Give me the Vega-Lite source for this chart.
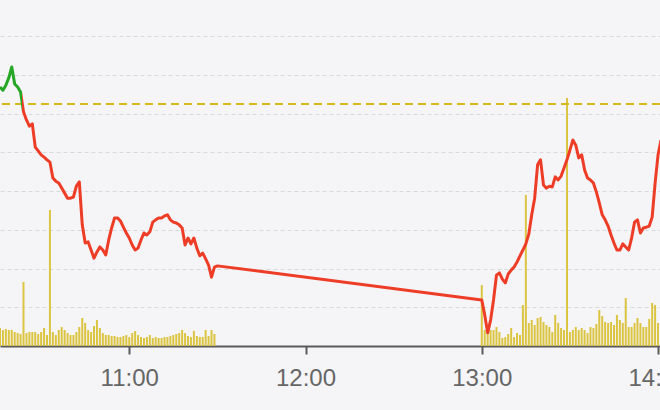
{
  "$schema": "https://vega.github.io/schema/vega-lite/v6.json",
  "width": 660,
  "height": 346,
  "padding": {"left": 0, "top": 0, "right": 0, "bottom": 64},
  "autosize": {"type": "none"},
  "background": "#f5f5f7",
  "config": {"view": {"stroke": null}, "font": "Liberation Sans"},
  "data": {
    "values": [
      {"t": "2024-01-02T10:16:00", "p": 20.669, "v": 1800},
      {"t": "2024-01-02T10:17:00", "p": 20.661, "v": 1600},
      {"t": "2024-01-02T10:18:00", "p": 20.674, "v": 1700},
      {"t": "2024-01-02T10:19:00", "p": 20.693, "v": 1600},
      {"t": "2024-01-02T10:20:00", "p": 20.721, "v": 1600},
      {"t": "2024-01-02T10:21:00", "p": 20.677, "v": 1400},
      {"t": "2024-01-02T10:22:00", "p": 20.669, "v": 1300},
      {"t": "2024-01-02T10:23:00", "p": 20.656, "v": 1200},
      {"t": "2024-01-02T10:24:00", "p": 20.605, "v": 6400},
      {"t": "2024-01-02T10:25:00", "p": 20.584, "v": 1300},
      {"t": "2024-01-02T10:26:00", "p": 20.568, "v": 1400},
      {"t": "2024-01-02T10:27:00", "p": 20.574, "v": 1400},
      {"t": "2024-01-02T10:28:00", "p": 20.514, "v": 1400},
      {"t": "2024-01-02T10:29:00", "p": 20.504, "v": 1200},
      {"t": "2024-01-02T10:30:00", "p": 20.494, "v": 1400},
      {"t": "2024-01-02T10:31:00", "p": 20.488, "v": 1800},
      {"t": "2024-01-02T10:32:00", "p": 20.481, "v": 1100},
      {"t": "2024-01-02T10:33:00", "p": 20.475, "v": 13600},
      {"t": "2024-01-02T10:34:00", "p": 20.434, "v": 1400},
      {"t": "2024-01-02T10:35:00", "p": 20.426, "v": 1100},
      {"t": "2024-01-02T10:36:00", "p": 20.421, "v": 1600},
      {"t": "2024-01-02T10:37:00", "p": 20.408, "v": 1900},
      {"t": "2024-01-02T10:38:00", "p": 20.395, "v": 1600},
      {"t": "2024-01-02T10:39:00", "p": 20.382, "v": 1300},
      {"t": "2024-01-02T10:40:00", "p": 20.382, "v": 1100},
      {"t": "2024-01-02T10:41:00", "p": 20.385, "v": 1100},
      {"t": "2024-01-02T10:42:00", "p": 20.413, "v": 1400},
      {"t": "2024-01-02T10:43:00", "p": 20.424, "v": 1900},
      {"t": "2024-01-02T10:44:00", "p": 20.313, "v": 2800},
      {"t": "2024-01-02T10:45:00", "p": 20.266, "v": 2300},
      {"t": "2024-01-02T10:46:00", "p": 20.269, "v": 1600},
      {"t": "2024-01-02T10:47:00", "p": 20.248, "v": 1400},
      {"t": "2024-01-02T10:48:00", "p": 20.227, "v": 2000},
      {"t": "2024-01-02T10:49:00", "p": 20.243, "v": 2600},
      {"t": "2024-01-02T10:50:00", "p": 20.256, "v": 1800},
      {"t": "2024-01-02T10:51:00", "p": 20.248, "v": 1300},
      {"t": "2024-01-02T10:52:00", "p": 20.235, "v": 1100},
      {"t": "2024-01-02T10:53:00", "p": 20.274, "v": 1100},
      {"t": "2024-01-02T10:54:00", "p": 20.305, "v": 1000},
      {"t": "2024-01-02T10:55:00", "p": 20.331, "v": 1000},
      {"t": "2024-01-02T10:56:00", "p": 20.331, "v": 900},
      {"t": "2024-01-02T10:57:00", "p": 20.323, "v": 900},
      {"t": "2024-01-02T10:58:00", "p": 20.307, "v": 1000},
      {"t": "2024-01-02T10:59:00", "p": 20.292, "v": 1100},
      {"t": "2024-01-02T11:00:00", "p": 20.279, "v": 900},
      {"t": "2024-01-02T11:01:00", "p": 20.261, "v": 1300},
      {"t": "2024-01-02T11:02:00", "p": 20.248, "v": 1500},
      {"t": "2024-01-02T11:03:00", "p": 20.253, "v": 1100},
      {"t": "2024-01-02T11:04:00", "p": 20.274, "v": 900},
      {"t": "2024-01-02T11:05:00", "p": 20.292, "v": 800},
      {"t": "2024-01-02T11:06:00", "p": 20.287, "v": 900},
      {"t": "2024-01-02T11:07:00", "p": 20.295, "v": 1100},
      {"t": "2024-01-02T11:08:00", "p": 20.320, "v": 800},
      {"t": "2024-01-02T11:09:00", "p": 20.326, "v": 900},
      {"t": "2024-01-02T11:10:00", "p": 20.331, "v": 800},
      {"t": "2024-01-02T11:11:00", "p": 20.331, "v": 800},
      {"t": "2024-01-02T11:12:00", "p": 20.336, "v": 900},
      {"t": "2024-01-02T11:13:00", "p": 20.339, "v": 900},
      {"t": "2024-01-02T11:14:00", "p": 20.326, "v": 1000},
      {"t": "2024-01-02T11:15:00", "p": 20.320, "v": 1100},
      {"t": "2024-01-02T11:16:00", "p": 20.318, "v": 1200},
      {"t": "2024-01-02T11:17:00", "p": 20.313, "v": 1300},
      {"t": "2024-01-02T11:18:00", "p": 20.305, "v": 1600},
      {"t": "2024-01-02T11:19:00", "p": 20.261, "v": 1300},
      {"t": "2024-01-02T11:20:00", "p": 20.279, "v": 1000},
      {"t": "2024-01-02T11:21:00", "p": 20.264, "v": 900},
      {"t": "2024-01-02T11:22:00", "p": 20.279, "v": 1500},
      {"t": "2024-01-02T11:23:00", "p": 20.253, "v": 1000},
      {"t": "2024-01-02T11:24:00", "p": 20.233, "v": 900},
      {"t": "2024-01-02T11:25:00", "p": 20.240, "v": 900},
      {"t": "2024-01-02T11:26:00", "p": 20.225, "v": 1600},
      {"t": "2024-01-02T11:27:00", "p": 20.209, "v": 1000},
      {"t": "2024-01-02T11:28:00", "p": 20.178, "v": 1600},
      {"t": "2024-01-02T11:29:00", "p": 20.204, "v": 1200},
      {"t": "2024-01-02T11:30:00", "p": 20.207, "v": null},
      {"t": "2024-01-02T13:00:00", "p": 20.119, "v": 6100},
      {"t": "2024-01-02T13:01:00", "p": 20.080, "v": 1600},
      {"t": "2024-01-02T13:02:00", "p": 20.034, "v": 1300},
      {"t": "2024-01-02T13:03:00", "p": 20.067, "v": 1600},
      {"t": "2024-01-02T13:04:00", "p": 20.119, "v": 1600},
      {"t": "2024-01-02T13:05:00", "p": 20.183, "v": 1900},
      {"t": "2024-01-02T13:06:00", "p": 20.189, "v": 1400},
      {"t": "2024-01-02T13:07:00", "p": 20.173, "v": 800},
      {"t": "2024-01-02T13:08:00", "p": 20.163, "v": 900},
      {"t": "2024-01-02T13:09:00", "p": 20.186, "v": 1200},
      {"t": "2024-01-02T13:10:00", "p": 20.196, "v": 1800},
      {"t": "2024-01-02T13:11:00", "p": 20.204, "v": 900},
      {"t": "2024-01-02T13:12:00", "p": 20.217, "v": 1300},
      {"t": "2024-01-02T13:13:00", "p": 20.233, "v": 1100},
      {"t": "2024-01-02T13:14:00", "p": 20.248, "v": 4100},
      {"t": "2024-01-02T13:15:00", "p": 20.264, "v": 15100},
      {"t": "2024-01-02T13:16:00", "p": 20.289, "v": 2300},
      {"t": "2024-01-02T13:17:00", "p": 20.339, "v": 2600},
      {"t": "2024-01-02T13:18:00", "p": 20.382, "v": 2100},
      {"t": "2024-01-02T13:19:00", "p": 20.468, "v": 2800},
      {"t": "2024-01-02T13:20:00", "p": 20.481, "v": 2900},
      {"t": "2024-01-02T13:21:00", "p": 20.416, "v": 2400},
      {"t": "2024-01-02T13:22:00", "p": 20.408, "v": 2100},
      {"t": "2024-01-02T13:23:00", "p": 20.413, "v": 1900},
      {"t": "2024-01-02T13:24:00", "p": 20.411, "v": 1400},
      {"t": "2024-01-02T13:25:00", "p": 20.437, "v": 3100},
      {"t": "2024-01-02T13:26:00", "p": 20.429, "v": 2300},
      {"t": "2024-01-02T13:27:00", "p": 20.439, "v": 1800},
      {"t": "2024-01-02T13:28:00", "p": 20.460, "v": 1600},
      {"t": "2024-01-02T13:29:00", "p": 20.481, "v": 24800},
      {"t": "2024-01-02T13:30:00", "p": 20.506, "v": 1400},
      {"t": "2024-01-02T13:31:00", "p": 20.532, "v": 1600},
      {"t": "2024-01-02T13:32:00", "p": 20.519, "v": 1900},
      {"t": "2024-01-02T13:33:00", "p": 20.486, "v": 1600},
      {"t": "2024-01-02T13:34:00", "p": 20.494, "v": 1800},
      {"t": "2024-01-02T13:35:00", "p": 20.455, "v": 1600},
      {"t": "2024-01-02T13:36:00", "p": 20.434, "v": 1300},
      {"t": "2024-01-02T13:37:00", "p": 20.429, "v": 1900},
      {"t": "2024-01-02T13:38:00", "p": 20.421, "v": 1800},
      {"t": "2024-01-02T13:39:00", "p": 20.398, "v": 2200},
      {"t": "2024-01-02T13:40:00", "p": 20.370, "v": 3600},
      {"t": "2024-01-02T13:41:00", "p": 20.339, "v": 3000},
      {"t": "2024-01-02T13:42:00", "p": 20.326, "v": 2400},
      {"t": "2024-01-02T13:43:00", "p": 20.310, "v": 2300},
      {"t": "2024-01-02T13:44:00", "p": 20.287, "v": 2400},
      {"t": "2024-01-02T13:45:00", "p": 20.266, "v": 2100},
      {"t": "2024-01-02T13:46:00", "p": 20.248, "v": 3100},
      {"t": "2024-01-02T13:47:00", "p": 20.248, "v": 2600},
      {"t": "2024-01-02T13:48:00", "p": 20.264, "v": 2300},
      {"t": "2024-01-02T13:49:00", "p": 20.256, "v": 4800},
      {"t": "2024-01-02T13:50:00", "p": 20.248, "v": 1900},
      {"t": "2024-01-02T13:51:00", "p": 20.279, "v": 1900},
      {"t": "2024-01-02T13:52:00", "p": 20.320, "v": 2300},
      {"t": "2024-01-02T13:53:00", "p": 20.326, "v": 2800},
      {"t": "2024-01-02T13:54:00", "p": 20.292, "v": 2300},
      {"t": "2024-01-02T13:55:00", "p": 20.305, "v": 1900},
      {"t": "2024-01-02T13:56:00", "p": 20.307, "v": 1900},
      {"t": "2024-01-02T13:57:00", "p": 20.310, "v": 2700},
      {"t": "2024-01-02T13:58:00", "p": 20.333, "v": 4300},
      {"t": "2024-01-02T13:59:00", "p": 20.421, "v": 4100},
      {"t": "2024-01-02T14:00:00", "p": 20.494, "v": 2300},
      {"t": "2024-01-02T14:01:00", "p": 20.532, "v": null}
    ]
  },
  "layer": [
    {
      "mark": {"type": "bar", "width": 2, "color": "#dcc443", "clip": true},
      "encoding": {
        "x": {
          "field": "t",
          "type": "temporal",
          "scale": {
            "padding": 0,
            "domain": [
              {"year": 2024, "month": 1, "date": 2, "hours": 10, "minutes": 16},
              {"year": 2024, "month": 1, "date": 2, "hours": 14, "minutes": 0, "seconds": 40}
            ]
          },
          "axis": {
            "title": null,
            "format": "%H:%M",
            "values": [
              {"year": 2024, "month": 1, "date": 2, "hours": 11, "minutes": 0},
              {"year": 2024, "month": 1, "date": 2, "hours": 12, "minutes": 0},
              {"year": 2024, "month": 1, "date": 2, "hours": 13, "minutes": 0},
              {"year": 2024, "month": 1, "date": 2, "hours": 14, "minutes": 0}
            ],
            "grid": false,
            "labelFlush": false,
            "labelOverlap": false,
            "domainColor": "#5a5a5a",
            "domainWidth": 2,
            "tickColor": "#5a5a5a",
            "tickWidth": 2,
            "tickSize": 8,
            "labelPadding": 12,
            "labelFontSize": 24,
            "labelColor": "#666666"
          }
        },
        "y": {
          "field": "v",
          "type": "quantitative",
          "scale": {"domain": [0, 34600], "nice": false},
          "axis": null
        }
      }
    },
    {
      "layer": [
        {
          "mark": {"type": "rule", "color": "#d5b81e", "strokeWidth": 2, "strokeDash": [8, 5]},
          "encoding": {"y": {"datum": 20.625, "type": "quantitative"}}
        },
        {
          "mark": {
            "type": "line",
            "clip": true,
            "strokeWidth": 3,
            "strokeJoin": "round",
            "stroke": {
              "gradient": "linear",
              "x1": 0, "y1": 0, "x2": 1, "y2": 0,
              "stops": [
                {"offset": 0, "color": "#25a725"},
                {"offset": 0.0337, "color": "#25a725"},
                {"offset": 0.0338, "color": "#ee3d27"},
                {"offset": 1, "color": "#ee3d27"}
              ]
            }
          },
          "encoding": {
            "x": {"field": "t", "type": "temporal"},
            "y": {
              "field": "p",
              "type": "quantitative",
              "scale": {"domain": [20, 20.894], "nice": false, "zero": false},
              "axis": {
                "title": null,
                "labels": false,
                "ticks": false,
                "domain": false,
                "grid": true,
                "gridColor": "#d9d9dc",
                "gridDash": [4, 3],
                "values": [20.1, 20.2, 20.3, 20.4, 20.5, 20.6, 20.7, 20.8]
              }
            }
          }
        }
      ]
    }
  ],
  "resolve": {"scale": {"y": "independent"}}
}
